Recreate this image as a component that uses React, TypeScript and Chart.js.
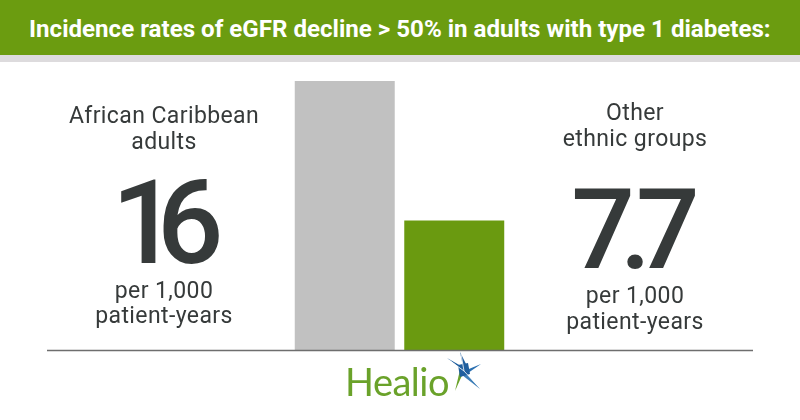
import React, { useEffect, useLayoutEffect, useRef } from "react";
import { Chart, registerables } from "chart.js";

Chart.register(...registerables);

const categories = ["African Caribbean adults", "Other ethnic groups"];
const rates = [16, 7.7];
const barColors = ["#c1c1c1", "#6a9a10"];
const titleText = "Incidence rates of eGFR decline > 50% in adults with type 1 diabetes:";
const leftLabel = ["African Caribbean", "adults"];
const rightLabel = ["Other", "ethnic groups"];
const valueLabels = ["16", "7.7"];
const unitLabel = ["per 1,000", "patient-years"];

const baselinePlugin = {
  id: "baseline",
  afterDatasetsDraw(chart: any) {
    const { ctx } = chart;
    const y = Math.round(chart.scales.y.getPixelForValue(0)) + 0.5;
    ctx.save();
    ctx.strokeStyle = "#6e6e6e";
    ctx.lineWidth = 1.5;
    ctx.beginPath();
    ctx.moveTo(47, y);
    ctx.lineTo(753, y);
    ctx.stroke();
    ctx.restore();
  },
};

const textDark = "#363a3a";
const bodyFont = "Roboto, 'Noto Sans', sans-serif";

export default function App() {
  const ref = useRef<HTMLCanvasElement>(null);
  const titleRef = useRef<HTMLSpanElement>(null);

  useLayoutEffect(() => {
    const el = titleRef.current;
    if (!el) return;
    const w = el.offsetWidth;
    if (w > 0) el.style.transform = `scaleX(${742 / w})`;
  }, []);

  useEffect(() => {
    if (!ref.current) return;
    const chart = new Chart(ref.current, {
      type: "bar",
      data: {
        labels: categories,
        datasets: [
          {
            data: rates,
            backgroundColor: barColors,
            borderWidth: 0,
            categoryPercentage: 1,
            barPercentage: 0.913,
          },
        ],
      },
      options: {
        responsive: false,
        animation: false,
        layout: { padding: { left: 290, right: 291, top: 81, bottom: 70 } },
        plugins: { legend: { display: false }, tooltip: { enabled: false } },
        scales: {
          x: { display: false },
          y: { display: false, min: 0, max: 16 },
        },
      },
      plugins: [baselinePlugin],
    });
    return () => chart.destroy();
  }, []);

  const col = (cx: number): React.CSSProperties => ({
    position: "absolute",
    left: cx - 150,
    width: 300,
    textAlign: "center",
    color: textDark,
    fontFamily: bodyFont,
    whiteSpace: "nowrap",
    boxSizing: "border-box",
  });

  return (
    <div style={{ position: "absolute", left: 0, top: 0, width: 800, height: 420, background: "#fff", overflow: "hidden" }}>
      <canvas ref={ref} width={800} height={420} style={{ position: "absolute", left: 0, top: 0 }} />
      <div
        style={{
          position: "absolute",
          left: 0,
          top: 0,
          width: 800,
          height: 55,
          background: "#6b9c10",
          color: "#fff",
          fontFamily: "Roboto, sans-serif",
          fontWeight: 700,
          fontSize: 23,
          lineHeight: "55px",
          paddingTop: 2,
          boxSizing: "border-box",
          textAlign: "center",
          whiteSpace: "nowrap",
        }}
      >
        <span ref={titleRef} style={{ display: "inline-block", transformOrigin: "50% 50%", lineHeight: "53px" }}>
          {titleText}
        </span>
      </div>
      <div style={{ position: "absolute", left: 0, top: 55, width: 800, height: 7, background: "#dddbdd" }} />

      <div style={{ ...col(164), top: 103, fontSize: 23, lineHeight: "26px", letterSpacing: 0.4 }}>
        {leftLabel[0]}
        <br />
        {leftLabel[1]}
      </div>
      <div
        style={{
          ...col(164),
          top: 165,
          fontSize: 117,
          fontWeight: 500,
          lineHeight: "117px",
          letterSpacing: -21,
          paddingRight: 14,
        }}
      >
        {valueLabels[0]}
      </div>
      <div style={{ ...col(164), top: 278, fontSize: 23, lineHeight: "25px", letterSpacing: 0.4 }}>
        {unitLabel[0]}
        <br />
        {unitLabel[1]}
      </div>

      <div style={{ ...col(635), top: 100, fontSize: 23, lineHeight: "26px", letterSpacing: 0.4 }}>
        {rightLabel[0]}
        <br />
        {rightLabel[1]}
      </div>
      <div
        style={{
          ...col(634),
          top: 174,
          fontSize: 112,
          fontWeight: 500,
          lineHeight: "112px",
          letterSpacing: -15,
          paddingRight: 12,
        }}
      >
        {valueLabels[1]}
      </div>
      <div style={{ ...col(635), top: 283, fontSize: 23, lineHeight: "26px", letterSpacing: 0.4 }}>
        {unitLabel[0]}
        <br />
        {unitLabel[1]}
      </div>

      <div
        style={{
          position: "absolute",
          left: 345,
          top: 359,
          fontFamily: "Lato, 'Open Sans', sans-serif",
          fontSize: 38,
          lineHeight: "44px",
          color: "#6aa22a",
          letterSpacing: -0.5,
        }}
      >
        Healio
      </div>
      <svg width={44} height={48} viewBox="0 0 44 48" style={{ position: "absolute", left: 440, top: 349 }}>
        <polygon points="24,22 7,9 21,17 23,19" fill="#1f5e9e" />
        <polygon points="24,22 20,3 27,17" fill="#1f5e9e" />
        <polygon points="24,22 41,15 28,24" fill="#2a6fb0" />
        <polygon points="24,22 40,40 22,26" fill="#3f7fb8" />
        <polygon points="24,22 15,42 20,21" fill="#6aa22a" />
        <polygon points="18,16 28,14 30,25 20,28" fill="#1f5e9e" />
        <line x1="24" y1="22" x2="9" y2="11" stroke="#fff" strokeWidth="0.8" />
        <line x1="24" y1="22" x2="39" y2="38" stroke="#fff" strokeWidth="0.8" />
        <line x1="24" y1="22" x2="21" y2="5" stroke="#fff" strokeWidth="0.8" />
      </svg>
    </div>
  );
}
